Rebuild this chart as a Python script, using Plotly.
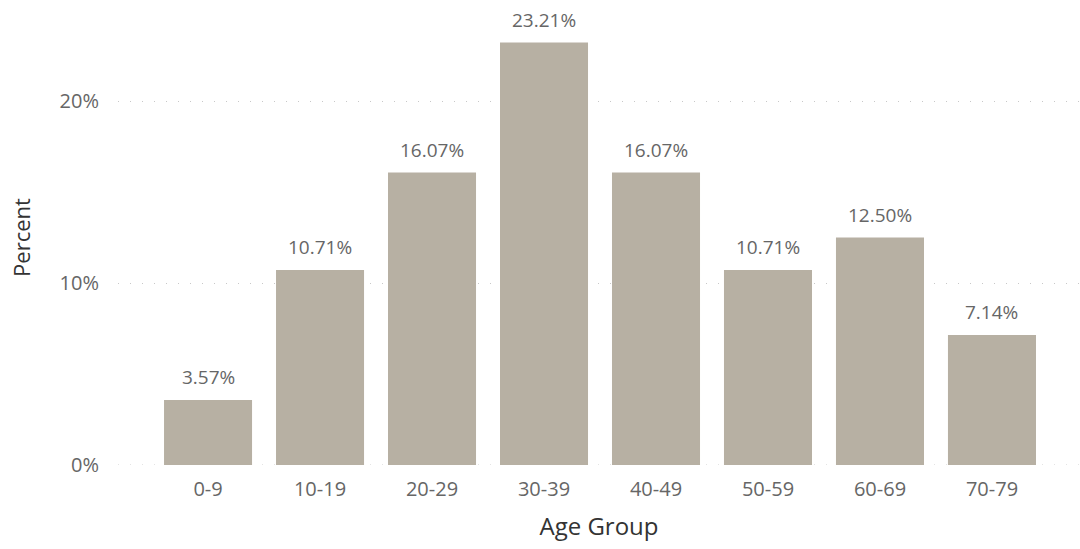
import plotly.graph_objects as go

# Share of records per age group (percent)
age_groups = ["0-9", "10-19", "20-29", "30-39", "40-49", "50-59", "60-69", "70-79"]
percents = [3.57, 10.71, 16.07, 23.21, 16.07, 10.71, 12.50, 7.14]

bar_color = "#B7B0A3"
text_color = "#666666"
title_color = "#333333"
grid_color = "#C8C8C8"
grid_dash = "1px,11px"
font_family = "Open Sans, Noto Sans, sans-serif"

fig = go.Figure(
    go.Bar(
        x=age_groups,
        y=percents,
        marker=dict(color=bar_color, line=dict(width=0)),
        width=0.786,
        hoverinfo="x+y",
    )
)

# value labels above each bar
for cat, val in zip(age_groups, percents):
    fig.add_annotation(
        x=cat,
        y=val,
        text=f"{val:.2f}%",
        showarrow=False,
        yanchor="bottom",
        yshift=8,
        font=dict(size=19, color=text_color, family=font_family),
    )

# dotted baseline at 0%, same style as the grid
fig.add_shape(
    type="line",
    xref="paper", x0=0, x1=1,
    yref="y", y0=0, y1=0,
    line=dict(color=grid_color, width=1, dash=grid_dash),
    layer="below",
)

fig.update_layout(
    width=1080,
    height=549,
    margin=dict(l=118, r=0, t=10, b=84),
    paper_bgcolor="white",
    plot_bgcolor="white",
    showlegend=False,
    font=dict(family=font_family, color=text_color),
    xaxis=dict(
        range=[-0.804, 7.786],
        showgrid=False,
        showline=False,
        ticks="",
        ticklabelstandoff=10,
        tickfont=dict(size=20, color=text_color),
        title=dict(text="Age Group", font=dict(size=24, color=title_color), standoff=17),
    ),
    yaxis=dict(
        range=[0, 25],
        tickvals=[0, 10, 20],
        ticktext=["0%", "10%", "20%"],
        showgrid=True,
        gridcolor=grid_color,
        griddash=grid_dash,
        gridwidth=1,
        zeroline=False,
        showline=False,
        ticks="",
        ticklabelstandoff=18,
        tickfont=dict(size=20, color=text_color),
        title=dict(text="Percent", font=dict(size=22, color=title_color), standoff=22),
    ),
)

fig.write_html("out.html")
